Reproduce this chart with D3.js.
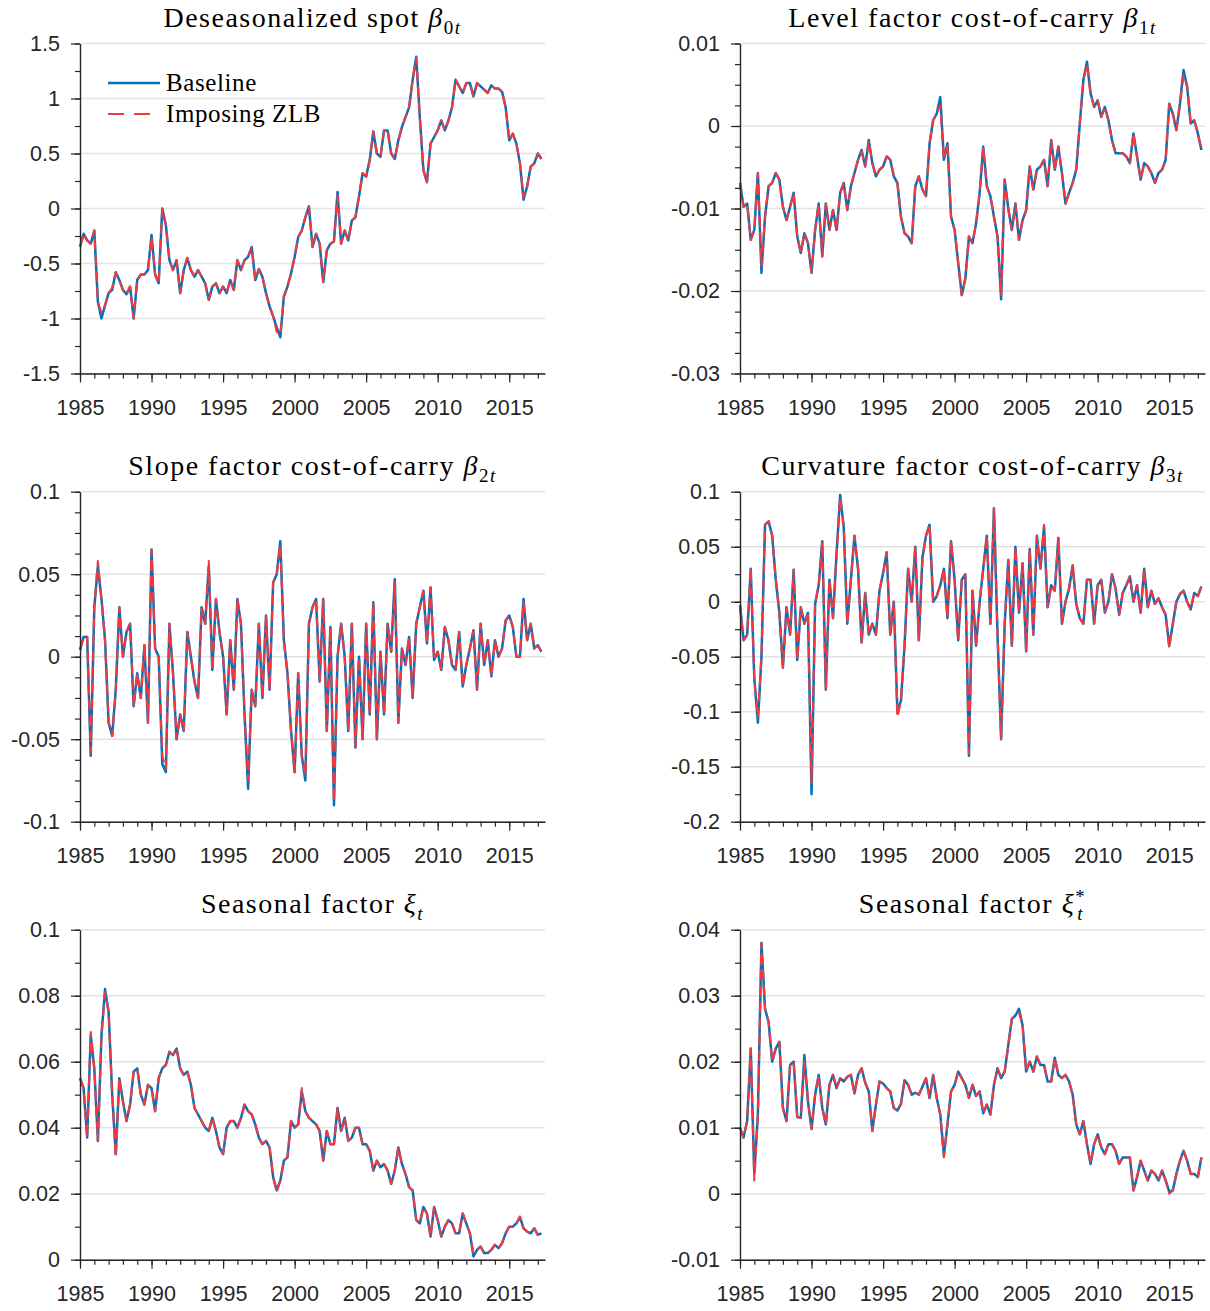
<!DOCTYPE html>
<html>
<head>
<meta charset="utf-8">
<script src="https://cdn.jsdelivr.net/npm/d3@7"></script>
<style>
  body { margin: 0; background: #fff; }
</style>
</head>
<body>
<svg id="chart" width="1210" height="1311"></svg>
<script>
// Quarterly observations, first one at 1985.0
const startYear = 1985;
const stepYear = 0.25;
const xMajorYears = [1985, 1990, 1995, 2000, 2005, 2010, 2015];

// Deseasonalized spot beta_0t
const spotBase = [
  -0.35,-0.23,-0.29,-0.32, -0.2,-0.85,-1.0,-0.88, -0.77,-0.74,-0.58,-0.65, -0.74,-0.78,-0.71,-1.0, -0.65,-0.6,-0.6,-0.56,
  -0.24,-0.6,-0.68,0.0, -0.15,-0.47,-0.56,-0.47, -0.77,-0.56,-0.45,-0.56, -0.62,-0.56,-0.62,-0.68, -0.83,-0.71,-0.68,-0.77,
  -0.71,-0.77,-0.65,-0.74, -0.47,-0.56,-0.47,-0.44, -0.35,-0.65,-0.55,-0.62, -0.77,-0.89,-0.98,-1.08, -1.17,-0.8,-0.71,-0.59,
  -0.44,-0.26,-0.2,-0.08, 0.02,-0.35,-0.23,-0.32, -0.67,-0.38,-0.32,-0.3, 0.15,-0.32,-0.2,-0.29, -0.11,-0.08,0.11,0.32,
  0.29,0.44,0.7,0.5, 0.47,0.71,0.71,0.5, 0.45,0.62,0.74,0.83, 0.92,1.17,1.38,0.83, 0.35,0.24,0.59,0.65,
  0.71,0.8,0.71,0.8, 0.92,1.17,1.11,1.05, 1.14,1.14,1.02,1.14, 1.11,1.08,1.05,1.12, 1.09,1.09,1.06,0.92,
  0.62,0.68,0.59,0.41, 0.08,0.2,0.38,0.41, 0.5,0.45
];
const spotZlb = [
  -0.35,-0.23,-0.29,-0.32, -0.2,-0.85,-0.95,-0.88, -0.77,-0.72,-0.58,-0.65, -0.74,-0.78,-0.71,-1.0, -0.65,-0.6,-0.6,-0.56,
  -0.26,-0.6,-0.68,0.0, -0.15,-0.47,-0.56,-0.47, -0.77,-0.56,-0.45,-0.56, -0.62,-0.56,-0.62,-0.68, -0.83,-0.71,-0.68,-0.77,
  -0.71,-0.77,-0.65,-0.74, -0.47,-0.56,-0.47,-0.44, -0.35,-0.65,-0.55,-0.62, -0.77,-0.89,-0.98,-1.12, -1.15,-0.8,-0.71,-0.59,
  -0.44,-0.26,-0.2,-0.08, 0.02,-0.35,-0.23,-0.32, -0.67,-0.38,-0.32,-0.3, 0.12,-0.32,-0.2,-0.29, -0.11,-0.08,0.11,0.32,
  0.29,0.44,0.7,0.5, 0.47,0.71,0.71,0.5, 0.45,0.62,0.74,0.83, 0.92,1.17,1.37,0.83, 0.35,0.24,0.59,0.65,
  0.71,0.8,0.71,0.8, 0.92,1.17,1.11,1.05, 1.14,1.14,1.02,1.14, 1.11,1.08,1.05,1.12, 1.09,1.09,1.06,0.92,
  0.62,0.68,0.59,0.41, 0.1,0.2,0.38,0.41, 0.5,0.45
];

// Level factor cost-of-carry beta_1t
const levelBase = [
  -0.0069,-0.0098,-0.0094,-0.0138, -0.0126,-0.0057,-0.0178,-0.011, -0.0073,-0.0069,-0.0057,-0.0065, -0.0098,-0.0114,-0.0098,-0.0081, -0.0134,-0.0154,-0.013,-0.0142,
  -0.0178,-0.0126,-0.0094,-0.0158, -0.0094,-0.0126,-0.0102,-0.0126, -0.0081,-0.0069,-0.0102,-0.0073, -0.0057,-0.0041,-0.0029,-0.0049, -0.0017,-0.0045,-0.0061,-0.0053,
  -0.0049,-0.0037,-0.0041,-0.0061, -0.0069,-0.011,-0.013,-0.0134, -0.0142,-0.0073,-0.0061,-0.0077, -0.0085,-0.0021,0.0007,0.0015, 0.0035,-0.0041,-0.0021,-0.011,
  -0.0126,-0.0166,-0.0205,-0.0185, -0.0134,-0.0142,-0.0118,-0.0081, -0.0025,-0.0073,-0.0085,-0.011, -0.0134,-0.021,-0.0065,-0.01, -0.0126,-0.0094,-0.0138,-0.0114,
  -0.0102,-0.0049,-0.0077,-0.0053, -0.0049,-0.0041,-0.0073,-0.0017, -0.0053,-0.0025,-0.0057,-0.0094, -0.0081,-0.0069,-0.0053,0.0003, 0.0056,0.0078,0.004,0.0023,
  0.0031,0.0011,0.0023,0.0007, -0.0017,-0.0033,-0.0033,-0.0033, -0.0037,-0.0045,-0.0009,-0.0037, -0.0065,-0.0045,-0.0049,-0.0057, -0.0069,-0.0057,-0.0053,-0.0041,
  0.0027,0.0015,-0.0005,0.0027, 0.0068,0.0048,0.0003,0.0007, -0.0009,-0.0029
];
const levelZlb = [
  -0.0069,-0.0098,-0.0094,-0.0138, -0.0126,-0.0057,-0.017,-0.011, -0.0073,-0.0069,-0.0057,-0.0065, -0.0098,-0.0114,-0.0098,-0.0081, -0.0134,-0.0154,-0.013,-0.0142,
  -0.0178,-0.0126,-0.0094,-0.0158, -0.0094,-0.0126,-0.0102,-0.0126, -0.0081,-0.0069,-0.0102,-0.0073, -0.0057,-0.0041,-0.0031,-0.0049, -0.0019,-0.0045,-0.0061,-0.0053,
  -0.0049,-0.0037,-0.0041,-0.0061, -0.0069,-0.011,-0.013,-0.0134, -0.0142,-0.0073,-0.0061,-0.0077, -0.0085,-0.0021,0.0007,0.0015, 0.0025,-0.0041,-0.0021,-0.011,
  -0.0126,-0.0166,-0.0205,-0.0185, -0.0134,-0.0142,-0.0118,-0.0081, -0.0025,-0.0073,-0.0085,-0.011, -0.0134,-0.0205,-0.0065,-0.01, -0.0126,-0.0094,-0.0138,-0.0114,
  -0.0102,-0.0049,-0.0077,-0.0053, -0.0049,-0.0041,-0.0073,-0.0017, -0.0053,-0.0025,-0.0057,-0.0094, -0.0081,-0.0069,-0.0053,0.0003, 0.0056,0.0075,0.004,0.0023,
  0.0031,0.0011,0.0023,0.0007, -0.0017,-0.0033,-0.0033,-0.0033, -0.0037,-0.0045,-0.0009,-0.0037, -0.0065,-0.0045,-0.0049,-0.0057, -0.0069,-0.0057,-0.0053,-0.0041,
  0.0027,0.0015,-0.0005,0.0027, 0.0062,0.0048,0.0003,0.0007, -0.0009,-0.0029
];

// Slope factor cost-of-carry beta_2t
const slopeBase = [
  0.004,0.012,0.012,-0.06, 0.03,0.055,0.035,0.01, -0.04,-0.048,-0.02,0.03, 0.0,0.015,0.02,-0.03, -0.01,-0.025,0.007,-0.04,
  0.065,0.005,0.0,-0.065, -0.07,0.02,-0.01,-0.05, -0.035,-0.045,0.015,0.0, -0.015,-0.025,0.03,0.02, 0.055,-0.008,0.035,0.015,
  0.0,-0.035,0.01,-0.02, 0.035,0.02,-0.035,-0.08, -0.02,-0.03,0.02,-0.025, 0.025,-0.02,0.045,0.05, 0.07,0.01,-0.01,-0.045,
  -0.07,-0.01,-0.06,-0.075, 0.02,0.03,0.035,-0.015, 0.035,-0.045,0.018,-0.09, 0.0,0.02,0.0,-0.045, 0.02,-0.055,0.0,-0.05,
  0.02,-0.035,0.033,-0.05, 0.003,-0.035,0.02,0.003, 0.047,-0.04,0.005,-0.005, 0.012,-0.025,0.02,0.03, 0.04,0.008,0.042,-0.002,
  0.003,-0.008,0.018,0.01, -0.005,-0.008,0.015,-0.018, -0.005,0.005,0.016,-0.02, 0.02,-0.005,0.01,-0.012, 0.01,0.0,0.005,0.022,
  0.025,0.018,0.0,0.0, 0.035,0.01,0.02,0.005, 0.007,0.003
];
const slopeZlb = [
  0.004,0.012,0.012,-0.058, 0.03,0.058,0.035,0.01, -0.04,-0.048,-0.02,0.03, 0.0,0.015,0.02,-0.03, -0.01,-0.025,0.007,-0.04,
  0.065,0.005,0.0,-0.06, -0.068,0.02,-0.01,-0.05, -0.035,-0.045,0.015,0.0, -0.015,-0.025,0.03,0.02, 0.058,-0.008,0.035,0.015,
  0.0,-0.035,0.01,-0.02, 0.035,0.02,-0.035,-0.075, -0.02,-0.03,0.02,-0.025, 0.025,-0.02,0.045,0.05, 0.068,0.01,-0.01,-0.045,
  -0.07,-0.01,-0.06,-0.072, 0.02,0.03,0.035,-0.015, 0.035,-0.045,0.018,-0.088, 0.0,0.02,0.0,-0.045, 0.02,-0.055,0.0,-0.05,
  0.02,-0.035,0.033,-0.05, 0.003,-0.035,0.02,0.003, 0.045,-0.04,0.005,-0.005, 0.012,-0.025,0.02,0.03, 0.04,0.008,0.042,-0.002,
  0.003,-0.008,0.018,0.01, -0.005,-0.008,0.015,-0.018, -0.005,0.005,0.016,-0.02, 0.02,-0.005,0.01,-0.012, 0.01,0.0,0.005,0.022,
  0.025,0.018,0.0,0.0, 0.033,0.01,0.02,0.005, 0.007,0.003
];

// Curvature factor cost-of-carry beta_3t
const curvBase = [
  -0.003,-0.035,-0.03,0.03, -0.07,-0.11,-0.05,0.07, 0.073,0.06,0.02,-0.01, -0.06,-0.005,-0.03,0.029, -0.053,-0.005,-0.02,-0.01,
  -0.175,-0.002,0.015,0.055, -0.08,0.02,-0.015,0.044, 0.097,0.068,-0.02,0.02, 0.06,0.03,-0.037,0.008, -0.03,-0.02,-0.03,0.01,
  0.026,0.045,-0.03,0.0, -0.1,-0.09,-0.04,0.03, 0.0,0.05,-0.035,0.04, 0.06,0.07,0.0,0.005, 0.015,0.03,-0.015,0.055,
  0.02,-0.035,0.02,0.025, -0.14,0.01,-0.04,0.0, 0.03,0.06,-0.02,0.085, -0.03,-0.125,-0.02,0.038, -0.04,0.05,-0.01,0.035,
  -0.045,0.048,-0.03,0.06, 0.03,0.068,-0.005,0.015, 0.01,0.058,-0.02,0.0, 0.012,0.033,-0.002,-0.015, -0.02,0.02,0.02,-0.02,
  0.015,0.02,-0.01,0.0, 0.025,0.012,-0.012,0.008, 0.015,0.023,0.0,0.015, -0.01,0.03,-0.005,0.01, -0.002,0.003,-0.005,-0.012,
  -0.04,-0.02,0.0,0.007, 0.01,0.0,-0.007,0.008, 0.005,0.014
];
const curvZlb = [
  -0.003,-0.035,-0.03,0.03, -0.07,-0.105,-0.05,0.07, 0.073,0.06,0.02,-0.01, -0.06,-0.005,-0.03,0.029, -0.053,-0.005,-0.02,-0.01,
  -0.165,-0.002,0.015,0.055, -0.08,0.02,-0.015,0.044, 0.095,0.068,-0.02,0.02, 0.06,0.03,-0.037,0.008, -0.03,-0.02,-0.03,0.01,
  0.026,0.045,-0.03,0.0, -0.105,-0.09,-0.04,0.03, 0.0,0.05,-0.035,0.04, 0.06,0.07,0.0,0.005, 0.015,0.03,-0.015,0.055,
  0.02,-0.035,0.02,0.025, -0.138,0.01,-0.04,0.0, 0.03,0.06,-0.02,0.085, -0.03,-0.125,-0.02,0.038, -0.04,0.05,-0.01,0.035,
  -0.045,0.048,-0.03,0.06, 0.03,0.07,-0.005,0.015, 0.01,0.058,-0.02,0.0, 0.012,0.033,-0.002,-0.015, -0.02,0.02,0.02,-0.02,
  0.015,0.02,-0.01,0.0, 0.025,0.012,-0.012,0.008, 0.015,0.023,0.0,0.015, -0.01,0.03,-0.005,0.01, -0.002,0.003,-0.005,-0.012,
  -0.042,-0.02,0.0,0.007, 0.01,0.0,-0.007,0.008, 0.005,0.014
];

// Seasonal factor xi_t
const seasBase = [
  0.055,0.052,0.037,0.068, 0.058,0.036,0.068,0.082, 0.075,0.05,0.032,0.055, 0.048,0.042,0.047,0.057, 0.058,0.05,0.047,0.053,
  0.052,0.045,0.055,0.058, 0.059,0.063,0.062,0.064, 0.058,0.056,0.057,0.053, 0.046,0.044,0.042,0.04, 0.039,0.043,0.039,0.034,
  0.032,0.04,0.042,0.042, 0.04,0.043,0.047,0.045, 0.044,0.041,0.037,0.035, 0.036,0.034,0.025,0.021, 0.024,0.03,0.031,0.042,
  0.04,0.041,0.051,0.045, 0.043,0.042,0.041,0.039, 0.03,0.039,0.035,0.035, 0.046,0.039,0.043,0.036, 0.037,0.04,0.04,0.035,
  0.035,0.033,0.027,0.03, 0.028,0.029,0.027,0.023, 0.027,0.034,0.029,0.026, 0.022,0.021,0.012,0.011, 0.016,0.014,0.007,0.016,
  0.012,0.007,0.01,0.012, 0.011,0.008,0.008,0.014, 0.011,0.008,0.001,0.003, 0.004,0.002,0.002,0.003, 0.0045,0.0035,0.005,0.008,
  0.01,0.01,0.011,0.013, 0.0095,0.0085,0.008,0.0095, 0.0075,0.008
];
const seasZlb = [
  0.055,0.052,0.037,0.069, 0.058,0.036,0.068,0.081, 0.075,0.05,0.031,0.055, 0.048,0.042,0.047,0.057, 0.058,0.05,0.047,0.053,
  0.052,0.045,0.055,0.058, 0.059,0.063,0.062,0.064, 0.058,0.056,0.057,0.053, 0.046,0.044,0.042,0.04, 0.039,0.043,0.039,0.034,
  0.032,0.04,0.042,0.042, 0.04,0.043,0.047,0.045, 0.044,0.041,0.037,0.035, 0.036,0.034,0.025,0.0205, 0.024,0.03,0.031,0.042,
  0.04,0.041,0.052,0.045, 0.043,0.042,0.041,0.039, 0.03,0.039,0.035,0.035, 0.046,0.039,0.043,0.036, 0.037,0.04,0.04,0.035,
  0.035,0.033,0.027,0.03, 0.028,0.029,0.027,0.023, 0.027,0.034,0.029,0.026, 0.022,0.021,0.012,0.011, 0.016,0.014,0.007,0.016,
  0.012,0.007,0.01,0.012, 0.011,0.008,0.008,0.014, 0.011,0.008,0.002,0.003, 0.004,0.002,0.002,0.003, 0.0045,0.0035,0.005,0.008,
  0.01,0.01,0.011,0.013, 0.0095,0.0085,0.008,0.0095, 0.0075,0.008
];

// Seasonal factor xi*_t
const seasStarBase = [
  0.01,0.0085,0.011,0.022, 0.003,0.012,0.038,0.028, 0.026,0.02,0.022,0.023, 0.013,0.011,0.0195,0.02, 0.0116,0.0115,0.021,0.014,
  0.0098,0.015,0.018,0.013, 0.0105,0.0165,0.018,0.016, 0.0175,0.017,0.0177,0.018, 0.0152,0.018,0.019,0.0168, 0.0155,0.0095,0.0135,0.017,
  0.0167,0.016,0.0155,0.013, 0.0126,0.0136,0.0172,0.0165, 0.015,0.0153,0.015,0.0162, 0.0175,0.0145,0.018,0.0145, 0.012,0.0058,0.0105,0.0155,
  0.0165,0.0185,0.0175,0.0165, 0.0145,0.0165,0.0148,0.0155, 0.0122,0.0135,0.012,0.0165, 0.019,0.0175,0.0185,0.0225, 0.0265,0.027,0.028,0.0255,
  0.0185,0.02,0.0185,0.0208, 0.0195,0.0195,0.017,0.017, 0.0206,0.018,0.0175,0.018, 0.017,0.015,0.0105,0.009, 0.011,0.0075,0.0045,0.0075,
  0.009,0.007,0.006,0.0075, 0.0075,0.0065,0.0045,0.0055, 0.0055,0.0055,0.0005,0.0025, 0.005,0.0035,0.002,0.0035, 0.003,0.002,0.0035,0.002,
  0.0003,0.0005,0.003,0.005, 0.0065,0.005,0.003,0.003, 0.0025,0.0055
];
const seasStarZlb = [
  0.01,0.0085,0.011,0.022, 0.002,0.012,0.038,0.028, 0.026,0.02,0.022,0.023, 0.013,0.011,0.0195,0.02, 0.0116,0.0115,0.02,0.014,
  0.0098,0.015,0.018,0.013, 0.0105,0.0165,0.018,0.016, 0.0175,0.017,0.0177,0.018, 0.0152,0.018,0.019,0.0168, 0.0155,0.0095,0.0135,0.017,
  0.0167,0.016,0.0155,0.013, 0.0126,0.0136,0.0172,0.0165, 0.015,0.0153,0.015,0.0162, 0.0175,0.0145,0.018,0.0145, 0.012,0.0055,0.0105,0.0155,
  0.0165,0.0185,0.0175,0.0165, 0.0145,0.0165,0.0148,0.0155, 0.0122,0.0135,0.012,0.0165, 0.019,0.0175,0.0185,0.0225, 0.0265,0.027,0.0275,0.0255,
  0.0185,0.02,0.0185,0.0208, 0.0195,0.0195,0.017,0.017, 0.0206,0.018,0.0175,0.018, 0.017,0.015,0.0105,0.009, 0.011,0.0075,0.0045,0.0075,
  0.009,0.007,0.006,0.0075, 0.0075,0.0065,0.0045,0.0055, 0.0055,0.0055,0.0005,0.0025, 0.005,0.0035,0.002,0.0035, 0.003,0.002,0.0035,0.002,
  0.0,0.0005,0.003,0.005, 0.0065,0.005,0.003,0.003, 0.0025,0.0055
];

// Y-axis ticks per panel
const spotTicks = [-1.5, -1, -0.5, 0, 0.5, 1, 1.5];
const levelTicks = [-0.03, -0.02, -0.01, 0, 0.01];
const slopeTicks = [-0.1, -0.05, 0, 0.05, 0.1];
const curvTicks = [-0.2, -0.15, -0.1, -0.05, 0, 0.05, 0.1];
const seasTicks = [0, 0.02, 0.04, 0.06, 0.08, 0.1];
const seasStarTicks = [-0.01, 0, 0.01, 0.02, 0.03, 0.04];

const legendLabels = ["Baseline", "Imposing ZLB"];

const BLUE = "#0072bd";
const RED = "#ef3b3f";
const INK = "#262626";
const SERIF = "'Liberation Serif', 'Times New Roman', serif";
const SANS = "'Liberation Sans', Arial, Helvetica, sans-serif";

const cols = [[80, 545], [740, 1205]];
const rows = [[43.5, 373.5], [491.7, 821.7], [929.7, 1259.7]];

const panels = [
  { title: [{t: "Deseasonalized spot "}, {t: "β", i: true}, {t: "0", sub: true}, {t: "t", sub: true, i: true}],
    base: spotBase, zlb: spotZlb, ticks: spotTicks, minor: 0.25, col: 0, row: 0, legend: true },
  { title: [{t: "Level factor cost-of-carry "}, {t: "β", i: true}, {t: "1", sub: true}, {t: "t", sub: true, i: true}],
    base: levelBase, zlb: levelZlb, ticks: levelTicks, minor: 0.0025, col: 1, row: 0 },
  { title: [{t: "Slope factor cost-of-carry "}, {t: "β", i: true}, {t: "2", sub: true}, {t: "t", sub: true, i: true}],
    base: slopeBase, zlb: slopeZlb, ticks: slopeTicks, minor: 0.0125, col: 0, row: 1 },
  { title: [{t: "Curvature factor cost-of-carry "}, {t: "β", i: true}, {t: "3", sub: true}, {t: "t", sub: true, i: true}],
    base: curvBase, zlb: curvZlb, ticks: curvTicks, minor: 0.025, col: 1, row: 1 },
  { title: [{t: "Seasonal factor "}, {t: "ξ", i: true}, {t: "t", sub: true, i: true}],
    base: seasBase, zlb: seasZlb, ticks: seasTicks, minor: 0.01, col: 0, row: 2 },
  { title: [{t: "Seasonal factor "}, {t: "ξ", i: true}, {t: "*", sup: true}, {t: "t", sub: true, i: true, under: true}],
    base: seasStarBase, zlb: seasStarZlb, ticks: seasStarTicks, minor: 0.005, col: 1, row: 2 }
];

const svg = d3.select("#chart");

panels.forEach(p => {
  const [x0, x1] = cols[p.col];
  const [y0, y1] = rows[p.row];
  const yMin = d3.min(p.ticks), yMax = d3.max(p.ticks);

  const x = d3.scaleLinear().domain([1985, 2017.5]).range([x0, x1]);
  const y = d3.scaleLinear().domain([yMin, yMax]).range([y1, y0]);

  const g = svg.append("g");

  // horizontal grid at major y ticks
  g.append("g").selectAll("line").data(p.ticks).join("line")
    .attr("x1", x0).attr("x2", x1)
    .attr("y1", d => y(d)).attr("y2", d => y(d))
    .attr("stroke", "#e3e3e3").attr("stroke-width", 1.4);

  const line = d3.line()
    .x((d, i) => x(startYear + i * stepYear))
    .y(d => y(d))
    .curve(d3.curveLinear);

  g.append("path").datum(p.base)
    .attr("d", line).attr("fill", "none")
    .attr("stroke", BLUE).attr("stroke-width", 2.5)
    .attr("stroke-linejoin", "round");
  g.append("path").datum(p.zlb)
    .attr("d", line).attr("fill", "none")
    .attr("stroke", RED).attr("stroke-width", 2.1)
    .attr("stroke-dasharray", "11,5")
    .attr("stroke-linejoin", "round");

  // y axis: minor then major ticks
  const minorY = d3.range(yMin, yMax + p.minor / 2, p.minor);
  g.append("g").attr("transform", `translate(${x0},0)`)
    .call(d3.axisLeft(y).tickValues(minorY).tickSize(5).tickSizeOuter(0).tickFormat(""))
    .call(a => a.select(".domain").remove())
    .call(a => a.selectAll("line").attr("stroke", INK).attr("stroke-width", 1.2));
  g.append("g").attr("transform", `translate(${x0},0)`)
    .call(d3.axisLeft(y).tickValues(p.ticks).tickSize(9).tickSizeOuter(0).tickPadding(11)
      .tickFormat(d => String(+d.toFixed(4))))
    .call(a => a.select(".domain").attr("stroke", INK).attr("stroke-width", 1.4))
    .call(a => a.selectAll("line").attr("stroke", INK).attr("stroke-width", 1.2))
    .call(a => a.selectAll("text").attr("font-family", SANS).attr("font-size", 21.5).attr("fill", INK));

  // x axis: yearly minor ticks, 5-year labelled ticks
  const minorX = d3.range(1985, 2018, 1);
  g.append("g").attr("transform", `translate(0,${y1})`)
    .call(d3.axisBottom(x).tickValues(minorX).tickSize(5).tickSizeOuter(0).tickFormat(""))
    .call(a => a.select(".domain").remove())
    .call(a => a.selectAll("line").attr("stroke", INK).attr("stroke-width", 1.2));
  g.append("g").attr("transform", `translate(0,${y1})`)
    .call(d3.axisBottom(x).tickValues(xMajorYears).tickSize(9).tickSizeOuter(0).tickPadding(17)
      .tickFormat(d3.format("d")))
    .call(a => a.select(".domain").attr("stroke", INK).attr("stroke-width", 1.4))
    .call(a => a.selectAll("line").attr("stroke", INK).attr("stroke-width", 1.2))
    .call(a => a.selectAll("text").attr("font-family", SANS).attr("font-size", 21.5).attr("fill", INK));

  // title with math symbol
  const title = g.append("text")
    .attr("x", (x0 + x1) / 2).attr("y", y0 - 16.5)
    .attr("text-anchor", "middle")
    .attr("font-family", SERIF).attr("font-size", 28)
    .attr("letter-spacing", 1.5).attr("fill", "#000");
  let shift = 0;
  p.title.forEach(part => {
    const ts = title.append("tspan").text(part.t);
    if (part.i) ts.attr("font-style", "italic");
    if (part.sup) {
      ts.attr("font-size", 19).attr("dy", -10 - shift); shift = -10;
    } else if (part.sub) {
      ts.attr("font-size", 19).attr("dy", 7 - shift); shift = 7;
      if (part.under) ts.attr("dx", -9);
    }
  });

  if (p.legend) {
    const items = [
      { label: legendLabels[0], color: BLUE, dash: null, w: 2.5 },
      { label: legendLabels[1], color: RED, dash: "16,10", w: 2.1 }
    ];
    const lg = g.append("g");
    items.forEach((it, k) => {
      const ly = 83 + k * 31;
      lg.append("line").attr("x1", 108).attr("x2", 160).attr("y1", ly).attr("y2", ly)
        .attr("stroke", it.color).attr("stroke-width", it.w)
        .attr("stroke-dasharray", it.dash);
      lg.append("text").attr("x", 166).attr("y", ly + 8)
        .attr("font-family", SERIF).attr("font-size", 25)
        .attr("letter-spacing", 0.6).attr("fill", "#000")
        .text(it.label);
    });
  }
});
</script>
</body>
</html>
